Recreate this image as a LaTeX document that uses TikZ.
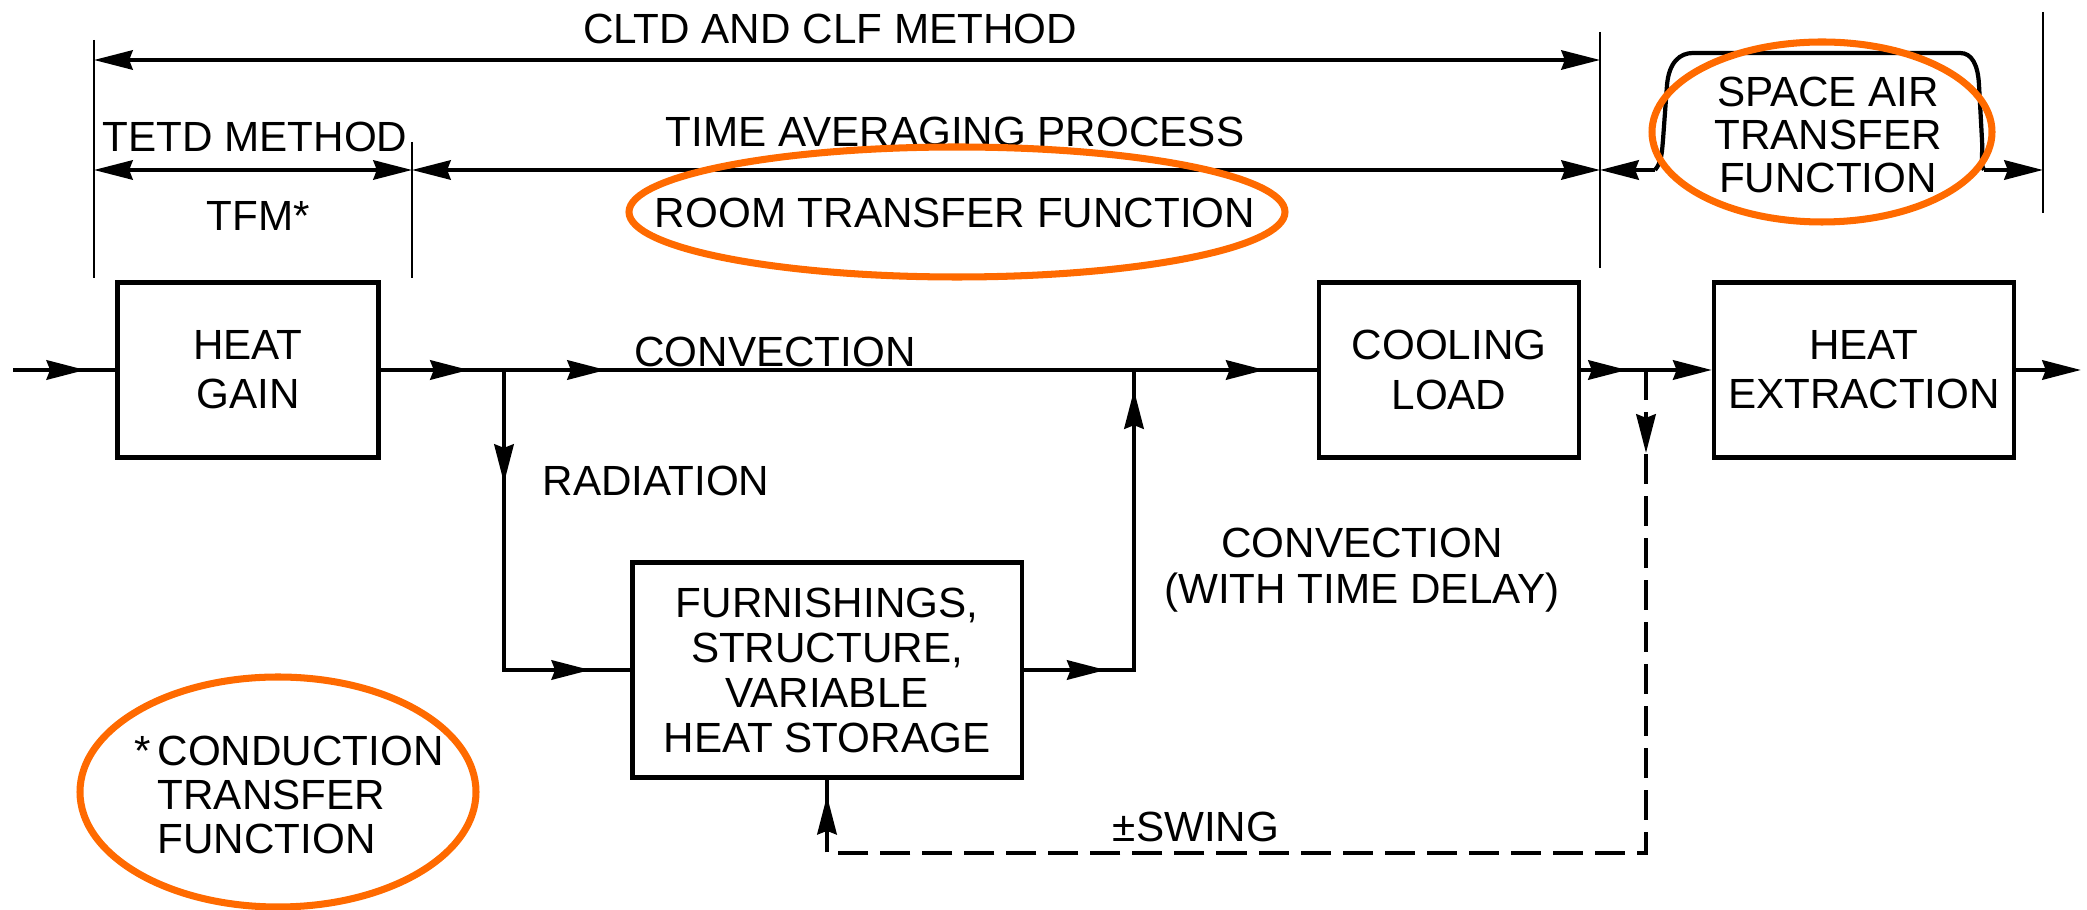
\documentclass[tikz,border=0pt]{standalone}
\usepackage{fontspec}
\setmainfont{Liberation Sans}
\usetikzlibrary{arrows.meta,decorations.markings,calc}
\definecolor{ringOrange}{HTML}{FF6A00}
\tikzset{
  blk/.style={draw, line width=1.2pt, minimum width=2.6cm, minimum height=1.75cm,
        align=center, font=\fontsize{12}{14}\selectfont, inner sep=2pt},
  lab/.style={font=\fontsize{12}{13}\selectfont, align=center, inner sep=0pt},
  flow/.style={line width=1.2pt},
  tip/.style={-{Stealth[length=11pt,width=5.5pt,inset=1pt]}},
  dim/.style={line width=1pt,
        {Stealth[length=11pt,width=5.5pt,inset=1pt]}-{Stealth[length=11pt,width=5.5pt,inset=1pt]}},
  tick/.style={line width=0.8pt},
  ring/.style={draw=ringOrange, line width=2pt},
  swingdash/.style={dash pattern=on 0.3cm off 0.12cm},
  arrowat/.style={postaction={decorate}, decoration={markings,
        mark=at position #1 with {\arrow{Stealth[length=11pt,width=5.5pt,inset=1pt]}}}},
  arrowsat/.style 2 args={postaction={decorate}, decoration={markings,
        mark=at position #1 with {\arrow{Stealth[length=11pt,width=5.5pt,inset=1pt]}},
        mark=at position #2 with {\arrow{Stealth[length=11pt,width=5.5pt,inset=1pt]}}}}
}

\begin{document}
\begin{tikzpicture}[x=0.01cm, y=-0.01cm]
\useasboundingbox (0,0) rectangle (2087,910);

% blocks
\node[blk, minimum width=2.61cm] (gain) at (248,370) {HEAT\\GAIN};
\node[blk] (cool) at (1449,370) {COOLING\\LOAD};
\node[blk, minimum width=3cm] (extr) at (1864,370) {HEAT\\EXTRACTION};
\node[blk, minimum width=3.89cm, minimum height=2.15cm,
      font=\fontsize{12}{12.8}\selectfont] (stor) at (827,670)
      {FURNISHINGS,\\STRUCTURE,\\VARIABLE\\HEAT STORAGE};

\coordinate (in) at (13,370);
\coordinate (jr) at (504,370);
\coordinate (jd) at (1134,370);
\coordinate (js) at (1646,370);
\coordinate (out) at (2081,370);
\coordinate (sw) at (1646,853);

% flows
\draw[flow, arrowat=-0.3cm] (in) -- (gain.west);
\draw[flow, arrowat=-0.35cm] (gain.east) -- (jr);
\draw[flow, arrowsat={1.02cm}{-0.52cm}] (jr) -- (jd) -- (cool.west);
\draw[flow, arrowsat={1.13cm}{-0.4cm}] (jr) |- (stor.west);
\draw[flow, arrowsat={0.82cm}{-0.2cm}] (stor.east) -| (jd);
\draw[flow, arrowat=-0.19cm] (cool.east) -- (js);
\draw[flow, tip] (js) -- (extr.west);
\draw[flow, tip] (extr.east) -- (out);
\draw[flow, swingdash, arrowsat={0.83cm}{-0.16cm}] (js) -- (sw) -| (stor.south);

\node[lab] (conv) at (775,352) {CONVECTION};
\node[lab] (rad) at (656,481) {RADIATION};
\node[lab] (convd) at (1362,570) {CONVECTION\\(WITH TIME DELAY)};
\node[lab] (swing) at (1196,827) {±SWING};

% method ranges
\coordinate (aL) at (94,60);
\coordinate (aR) at (1600,60);
\coordinate (bL) at (94,170);
\coordinate (bM) at (412,170);
\coordinate (bR) at (1600,170);
\coordinate (bRR) at (2043,170);
\draw[tick] (94,40) -- (94,278);
\draw[tick] (412,142) -- (412,278);
\draw[tick] (1600,32) -- (1600,268);
\draw[tick] (2043,12) -- (2043,213);
\draw[dim] (aL) -- (aR);
\draw[dim] (bL) -- (bM);
\draw[dim] (bM) -- (bR);

% space air transfer function
\coordinate (sL) at (1655,170);
\coordinate (sR) at (1984,170);
\draw[flow] (sL) .. controls (1662,162) and (1662,150) .. (1663,140) -- (1667,85)
  .. controls (1669,62) and (1680,53) .. (1693,53) -- (1960,53)
  .. controls (1972,53) and (1978,65) .. (1979,85) -- (1982,140)
  .. controls (1983,155) and (1980,164) .. (sR);
\draw[flow, tip] (sL) -- (bR);
\draw[flow, tip] (sR) -- (bRR);

\node[lab] (cltd) at (830,29) {CLTD AND CLF METHOD};
\node[lab] (tetd) at (255,137) {TETD METHOD};
\node[lab] (tfm) at (258,216) {TFM*};
\node[lab] (tap) at (955,132) {TIME AVERAGING PROCESS};
\node[lab] (rtf) at (955,213) {ROOM TRANSFER FUNCTION};
\node[lab, font=\fontsize{12}{12.2}\selectfont] (satf) at (1828,135)
      {SPACE AIR\\TRANSFER\\FUNCTION};
\node[lab, align=left, anchor=west, font=\fontsize{12}{12.4}\selectfont] (ctf) at (157,795)
      {\llap{*\,}CONDUCTION\\TRANSFER\\FUNCTION};

% highlight rings
\draw[ring] (957,212) ellipse [x radius=328, y radius=65];
\draw[ring] (1822,132) ellipse [x radius=170, y radius=90];
\draw[ring] (278,792) ellipse [x radius=198, y radius=115];
\end{tikzpicture}
\end{document}
